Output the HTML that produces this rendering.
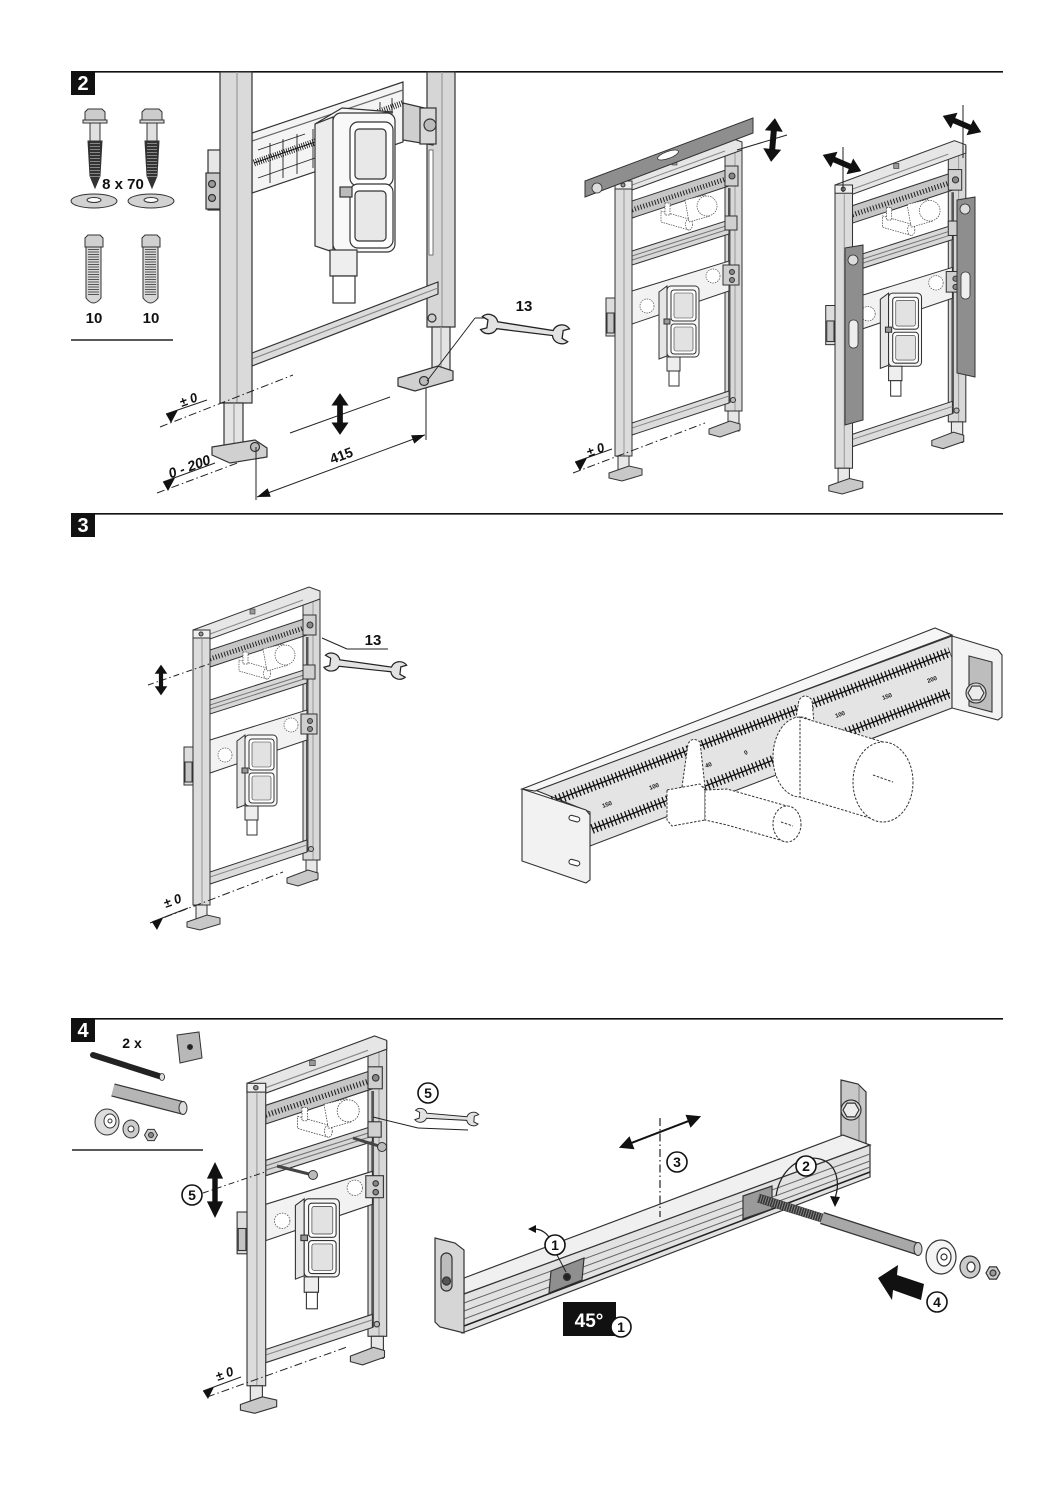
<!DOCTYPE html>
<html><head><meta charset="utf-8"><style>
html,body{margin:0;padding:0;background:#fff;}
svg{display:block;}
text{font-family:"Liberation Sans",Arial,sans-serif;font-weight:bold;fill:#111;}
</style></head><body>
<svg width="1058" height="1497" viewBox="0 0 1058 1497" xmlns="http://www.w3.org/2000/svg">
<defs>
 <g id="wrench"><path d="M 7 7 L 1 4.5 A 9.5 9.5 0 0 1 17 7.5 L 73 8.5 A 9.5 9.5 0 0 1 89 4.5 L 83 7 L 83 15 L 89 17.5 A 9.5 9.5 0 0 1 73 13.5 L 17 14.5 A 9.5 9.5 0 0 1 1 17.5 L 7 15 Z" fill="#e2e2e2" stroke="#222" stroke-width="1.3"/></g>
 <polygon id="darrow" points="0,-22 9,-9 3,-9 3,9 9,9 0,22 -9,9 -3,9 -3,-9 -9,-9" fill="#111"/>
 <g id="frame" stroke="#333" stroke-width="1">
  <!-- right post -->
  <rect x="110" y="-5" width="17" height="268" fill="#d8d8d8"/>
  <line x1="120" y1="-5" x2="120" y2="263" stroke="#999"/>
  <rect x="113" y="40" width="2.5" height="215" fill="#555" stroke="none"/>
  <rect x="113" y="263" width="11" height="20" fill="#e8e8e8"/>
  <polygon points="94,281 115,273 125,276 125,282 105,289 94,286" fill="#c8c8c8"/>
  <circle cx="118" cy="252" r="2.5" fill="#bbb"/>
  <!-- top crossbar -->
  <polygon points="0,33 116,-10 127,-6 127,2 17,42 0,42" fill="#e6e6e6"/>
  <line x1="17" y1="37" x2="110" y2="3" stroke="#888"/>
  <rect x="57" y="12" width="5" height="5" fill="#999" stroke-width="0.6"/>
  <!-- scale rail -->
  <polygon points="17,53 114,21 114,38 17,70" fill="#c6c6c6"/>
  <line x1="17" y1="62" x2="114" y2="30" stroke="#222" stroke-width="5" stroke-dasharray="1 2"/>
  <rect x="110" y="18" width="13" height="20" fill="#cfcfcf"/>
  <circle cx="117" cy="28" r="3" fill="#888"/>
  <!-- upper valve dashed -->
  <g fill="#fff" stroke="#444" stroke-width="0.7" stroke-dasharray="1.5 1">
   <polygon points="46,63 74,71 74,82 46,74"/>
   <ellipse cx="74" cy="76.5" rx="3.5" ry="5.5"/>
   <polygon points="70,52 90,47 95,68 74,74"/>
   <circle cx="92" cy="58" r="10"/>
   <rect x="50" y="55" width="5" height="12"/>
  </g>
  <!-- grooved rail -->
  <polygon points="17,103 114,72 114,86 17,117" fill="#d8d8d8"/>
  <line x1="17" y1="108" x2="114" y2="77" stroke="#777"/>
  <line x1="17" y1="112" x2="114" y2="81" stroke="#777"/>
  <rect x="110" y="68" width="12" height="14" fill="#d0d0d0"/>
  <!-- module plate -->
  <polygon points="17,143 114,113 114,143 17,176" fill="#f2f2f2"/>
  <g fill="#fff" stroke="#555" stroke-width="0.7" stroke-dasharray="1.5 1">
   <circle cx="32" cy="158" r="7"/>
   <circle cx="98" cy="128" r="7"/>
  </g>
  <rect x="108" y="117" width="16" height="20" fill="#cfcfcf"/>
  <circle cx="117" cy="124" r="2.5" fill="#888"/>
  <circle cx="117" cy="132" r="2.5" fill="#888"/>
  <!-- box -->
  <polygon points="44,144 52,138 52,208 44,211" fill="#e6e6e6"/>
  <rect x="52" y="138" width="32" height="71" rx="4" fill="#f6f6f6"/>
  <rect x="56" y="142" width="25" height="31" rx="3" fill="#fff"/>
  <rect x="59" y="145" width="19" height="25" rx="2" fill="#e2e2e2" stroke-width="0.6"/>
  <rect x="56" y="176" width="25" height="30" rx="3" fill="#fff"/>
  <rect x="59" y="179" width="19" height="24" rx="2" fill="#e2e2e2" stroke-width="0.6"/>
  <rect x="49" y="171" width="6" height="5" fill="#999"/>
  <rect x="52" y="209" width="13" height="14" fill="#eee"/>
  <rect x="54" y="223" width="10" height="15" fill="#fff"/>
  <!-- bottom crossbar -->
  <polygon points="17,275 114,243 114,255 17,287" fill="#dcdcdc"/>
  <line x1="17" y1="280" x2="114" y2="248" stroke="#888"/>
  <!-- left post -->
  <rect x="0" y="35" width="17" height="273" fill="#dcdcdc"/>
  <line x1="9" y1="42" x2="9" y2="308" stroke="#999"/>
  <rect x="0" y="33" width="17" height="8" fill="#eee"/>
  <circle cx="8" cy="37" r="2" fill="#999"/>
  <rect x="3" y="308" width="11" height="14" fill="#e8e8e8"/>
  <polygon points="-6,325 14,318 27,321 27,327 7,333 -6,330" fill="#c8c8c8"/>
  <!-- left bracket -->
  <rect x="-9" y="150" width="9" height="38" fill="#ddd"/>
  <rect x="-8" y="165" width="7" height="20" fill="#c4c4c4"/>
 </g>
</defs>

<!-- ===== SECTION HEADERS ===== -->
<rect x="71" y="71" width="24" height="24" fill="#111"/>
<text x="83" y="90" text-anchor="middle" font-size="20" style="fill:#fff">2</text>
<line x1="94" y1="71.8" x2="1003" y2="71.8" stroke="#111" stroke-width="1.6"/>
<rect x="71" y="513" width="24" height="24" fill="#111"/>
<text x="83" y="532" text-anchor="middle" font-size="20" style="fill:#fff">3</text>
<line x1="94" y1="513.8" x2="1003" y2="513.8" stroke="#111" stroke-width="1.6"/>
<rect x="71" y="1018" width="24" height="24" fill="#111"/>
<text x="83" y="1037" text-anchor="middle" font-size="20" style="fill:#fff">4</text>
<line x1="94" y1="1018.8" x2="1003" y2="1018.8" stroke="#111" stroke-width="1.6"/>

<!-- ===== SECTION 2 KIT ===== -->
<g stroke="#333" stroke-width="1">
 <!-- screws -->
 <polygon points="85,112 88,109 102,109 105,112 105,120 85,120" fill="#ccc"/>
 <rect x="83" y="120" width="24" height="3" fill="#ddd"/>
 <rect x="90" y="123" width="10" height="18" fill="#e0e0e0"/>
 <polygon points="88,141 102,141 100,176 95,188 90,176" fill="#333"/>
 <line x1="95" y1="143" x2="95" y2="178" stroke="#888" stroke-width="10" stroke-dasharray="1 2"/>
 <polygon points="142,112 145,109 159,109 162,112 162,120 142,120" fill="#ccc"/>
 <rect x="140" y="120" width="24" height="3" fill="#ddd"/>
 <rect x="147" y="123" width="10" height="18" fill="#e0e0e0"/>
 <polygon points="145,141 159,141 157,176 152,188 147,176" fill="#333"/>
 <line x1="152" y1="143" x2="152" y2="178" stroke="#888" stroke-width="10" stroke-dasharray="1 2"/>
 <!-- washers -->
 <ellipse cx="94" cy="201" rx="23" ry="7" fill="#d2d2d2"/>
 <ellipse cx="94" cy="200" rx="7" ry="2.5" fill="#fff"/>
 <ellipse cx="151" cy="201" rx="23" ry="7" fill="#d2d2d2"/>
 <ellipse cx="151" cy="200" rx="7" ry="2.5" fill="#fff"/>
 <!-- anchors -->
 <polygon points="85,238 88,235 100,235 103,238 103,247 85,247" fill="#d0d0d0"/>
 <path d="M 86 247 L 101 247 L 101 298 Q 93.5 308 86 298 Z" fill="#d6d6d6"/>
 <line x1="93.5" y1="249" x2="93.5" y2="296" stroke="#555" stroke-width="11" stroke-dasharray="1 1.5"/>
 <polygon points="142,238 145,235 157,235 160,238 160,247 142,247" fill="#d0d0d0"/>
 <path d="M 143 247 L 158 247 L 158 298 Q 150.5 308 143 298 Z" fill="#d6d6d6"/>
 <line x1="150.5" y1="249" x2="150.5" y2="296" stroke="#555" stroke-width="11" stroke-dasharray="1 1.5"/>
</g>
<text x="123" y="189" text-anchor="middle" font-size="15">8 x 70</text>
<text x="94" y="323" text-anchor="middle" font-size="15">10</text>
<text x="151" y="323" text-anchor="middle" font-size="15">10</text>
<line x1="71" y1="340" x2="173" y2="340" stroke="#222" stroke-width="1.5"/>

<!-- ===== SECTION 2 FIG 1 ===== -->
<g stroke="#333" stroke-width="1.2">
 <!-- right post -->
 <rect x="427" y="72" width="28" height="255" fill="#d6d6d6"/>
 <line x1="442" y1="72" x2="442" y2="327" stroke="#999"/>
 <rect x="429" y="150" width="4" height="105" fill="#fff" stroke="#555" stroke-width="0.8"/>
 <rect x="432" y="327" width="18" height="50" fill="#e4e4e4"/>
 <line x1="441" y1="327" x2="441" y2="377" stroke="#999"/>
 <circle cx="432" cy="318" r="4" fill="#ccc"/>
 <polygon points="398,378 438,366 453,371 453,380 415,391 398,386" fill="#d0d0d0"/>
 <circle cx="424" cy="381" r="4.5" fill="#bbb"/>
 <!-- left block behind -->
 <rect x="208" y="150" width="14" height="60" fill="#e6e6e6"/>
 <rect x="206" y="173" width="14" height="36" fill="#c8c8c8"/>
 <circle cx="212" cy="184" r="3.5" fill="#999"/>
 <circle cx="212" cy="198" r="3.5" fill="#999"/>
 <!-- scale plate -->
 <polygon points="252,133 403,82 403,142 252,193" fill="#f4f4f4"/>
 <line x1="252" y1="141" x2="403" y2="90" stroke="#666"/>
 <line x1="254" y1="163" x2="318" y2="141" stroke="#111" stroke-width="1"/>
 <line x1="254" y1="163" x2="318" y2="141" stroke="#111" stroke-width="7" stroke-dasharray="0.8 1.5"/>
 <g stroke="#222" stroke-width="0.9">
  <line x1="270" y1="143" x2="270" y2="183"/><line x1="283" y1="139" x2="283" y2="178"/>
  <line x1="297" y1="134" x2="297" y2="174"/><line x1="313" y1="129" x2="313" y2="168"/>
  <line x1="258" y1="150" x2="305" y2="134"/><line x1="258" y1="178" x2="315" y2="158"/>
  <line x1="392" y1="98" x2="392" y2="135"/><line x1="380" y1="102" x2="380" y2="139"/>
 </g>
 <line x1="378" y1="112" x2="403" y2="103" stroke="#111" stroke-width="6" stroke-dasharray="0.8 1.5"/>
 <!-- right bracket -->
 <polygon points="403,103 433,110 433,145 403,140" fill="#cfcfcf"/>
 <rect x="420" y="108" width="16" height="36" fill="#d8d8d8"/>
 <circle cx="430" cy="125" r="6" fill="#bbb"/>
 <!-- lower crossbar -->
 <polygon points="252,353 438,282 438,294 252,366" fill="#dcdcdc"/>
 <line x1="252" y1="359" x2="438" y2="288" stroke="#888"/>
 <!-- box -->
 <polygon points="315,124 333,117 333,252 315,246" fill="#ececec"/>
 <polygon points="315,124 342,108 393,112 333,117" fill="#f6f6f6"/>
 <rect x="333" y="113" width="62" height="139" rx="8" fill="#f8f8f8"/>
 <rect x="350" y="122" width="43" height="64" rx="8" fill="#fff"/>
 <rect x="355" y="129" width="31" height="50" rx="4" fill="#e8e8e8"/>
 <rect x="350" y="184" width="43" height="64" rx="8" fill="#fff"/>
 <rect x="355" y="191" width="31" height="50" rx="4" fill="#e8e8e8"/>
 <rect x="340" y="187" width="12" height="10" fill="#bbb"/>
 <rect x="330" y="250" width="27" height="26" fill="#eee"/>
 <rect x="333" y="276" width="22" height="27" fill="#fff"/>
 <!-- left post -->
 <rect x="220" y="72" width="32" height="331" fill="#dadada"/>
 <line x1="237" y1="72" x2="237" y2="403" stroke="#999"/>
 <rect x="224" y="403" width="19" height="48" fill="#e4e4e4"/>
 <line x1="234" y1="403" x2="234" y2="451" stroke="#999"/>
 <polygon points="212,447 255,440 267,448 267,457 230,463 212,455" fill="#d0d0d0"/>
 <circle cx="255" cy="447" r="4.5" fill="#bbb"/>
</g>
<!-- dimension & markers fig1 -->
<g stroke="#222" stroke-width="1" fill="none">
 <line x1="160" y1="427" x2="293" y2="375" stroke-dasharray="8 3 1.5 3"/>
 <line x1="157" y1="493" x2="240" y2="462" stroke-dasharray="8 3 1.5 3"/>
 <line x1="166" y1="414" x2="207" y2="400"/>
 <line x1="163" y1="482" x2="215" y2="463"/>
 <line x1="256" y1="447" x2="256" y2="500"/>
 <line x1="426" y1="388" x2="426" y2="440"/>
 <line x1="290" y1="433" x2="390" y2="397"/>
 <line x1="427" y1="381" x2="475" y2="318"/>
 <line x1="475" y1="318" x2="490" y2="318"/>
</g>
<polygon points="166,414 178,410 171,423" fill="#111"/>
<polygon points="163,482 175,478 168,491" fill="#111"/>
<text transform="translate(190,404) rotate(-20)" text-anchor="middle" font-size="13" font-style="italic">± 0</text>
<text transform="translate(191,471) rotate(-20)" text-anchor="middle" font-size="14" font-style="italic">0 - 200</text>
<g transform="translate(257,497) rotate(-20.3)">
 <line x1="0" y1="0" x2="179" y2="0" stroke="#222" stroke-width="1"/>
 <polygon points="0,0 13,-4.5 13,4.5" fill="#111"/>
 <polygon points="179,0 166,-4.5 166,4.5" fill="#111"/>
</g>
<text transform="translate(343,460) rotate(-20)" text-anchor="middle" font-size="14">415</text>
<use href="#darrow" transform="translate(340,414) scale(0.95)"/>
<use href="#wrench" transform="translate(482,312) rotate(8)"/>
<text x="524" y="311" text-anchor="middle" font-size="15">13</text>

<!-- ===== SECTION 2 FIG 2 ===== -->
<use href="#frame" transform="translate(615,148)"/>
<polygon points="585,181 753,118 753,133 585,197" fill="#8e8e8e" stroke="#333" stroke-width="1"/>
<ellipse cx="668" cy="155" rx="11" ry="3.5" transform="rotate(-20 668 155)" fill="#fff" stroke="#333" stroke-width="0.8"/>
<circle cx="597" cy="188" r="5" fill="#ddd" stroke="#333" stroke-width="0.8"/>
<line x1="737" y1="150" x2="787" y2="135" stroke="#222" stroke-width="1"/>
<use href="#darrow" transform="translate(773,140) rotate(5)"/>
<line x1="573" y1="473" x2="705" y2="423" stroke="#222" stroke-width="1" stroke-dasharray="8 3 1.5 3"/>
<line x1="575" y1="462" x2="612" y2="449" stroke="#222" stroke-width="1"/>
<polygon points="575,462 587,458 580,471" fill="#111"/>
<text transform="translate(597,454) rotate(-20)" text-anchor="middle" font-size="13" font-style="italic">± 0</text>

<!-- ===== SECTION 2 FIG 3 ===== -->
<use href="#frame" transform="translate(835,151) scale(1.03)"/>
<polygon points="845,248 863,245 863,420 845,425" fill="#8e8e8e" stroke="#333" stroke-width="1"/>
<circle cx="853" cy="260" r="5" fill="#ddd" stroke="#333" stroke-width="0.8"/>
<rect x="849" y="320" width="9" height="28" rx="4" fill="#eee" stroke="#333" stroke-width="0.8"/>
<polygon points="957,200 975,197 975,377 957,373" fill="#8e8e8e" stroke="#333" stroke-width="1"/>
<circle cx="965" cy="209" r="5" fill="#ddd" stroke="#333" stroke-width="0.8"/>
<rect x="961" y="272" width="9" height="27" rx="4" fill="#eee" stroke="#333" stroke-width="0.8"/>
<line x1="843" y1="147" x2="843" y2="192" stroke="#222" stroke-width="1"/>
<line x1="963" y1="105" x2="963" y2="158" stroke="#222" stroke-width="1"/>
<use href="#darrow" transform="translate(842,163) rotate(113) scale(0.95)"/>
<use href="#darrow" transform="translate(962,124) rotate(113) scale(0.95)"/>

<!-- ===== SECTION 3 FRAME ===== -->
<use href="#frame" transform="translate(193,597)"/>
<line x1="148" y1="685" x2="212" y2="663" stroke="#222" stroke-width="1" stroke-dasharray="6 3 1.5 3"/>
<use href="#darrow" transform="translate(161,680) scale(0.7)"/>
<line x1="322" y1="638" x2="347" y2="649" stroke="#222" stroke-width="1"/>
<line x1="347" y1="649" x2="388" y2="649" stroke="#222" stroke-width="1"/>
<text x="373" y="645" text-anchor="middle" font-size="15">13</text>
<use href="#wrench" transform="translate(325,651) rotate(7) scale(0.93)"/>
<line x1="150" y1="923" x2="283" y2="872" stroke="#222" stroke-width="1" stroke-dasharray="8 3 1.5 3"/>
<line x1="152" y1="922" x2="188" y2="908" stroke="#222" stroke-width="1"/>
<polygon points="152,922 163,918 157,930" fill="#111"/>
<text transform="translate(174,905) rotate(-20)" text-anchor="middle" font-size="13" font-style="italic">± 0</text>

<!-- ===== SECTION 3 BRACKET ===== -->
<g stroke="#333" stroke-width="1.1">
 <polygon points="535,790 952,636 952,708 590,846 590,812" fill="#e4e4e4"/>
 <polygon points="522,789 935,628 952,635 535,791" fill="#f6f6f6"/>
 <line x1="545" y1="804" x2="950" y2="652" stroke="#111" stroke-width="1.3"/>
 <line x1="545" y1="804" x2="950" y2="652" stroke="#111" stroke-width="10" stroke-dasharray="1.3 2.7"/>
 <line x1="592" y1="829" x2="950" y2="693" stroke="#111" stroke-width="1.3"/>
 <line x1="592" y1="829" x2="950" y2="693" stroke="#111" stroke-width="10" stroke-dasharray="1.3 2.7"/>
</g>
<g font-size="6">
 <text transform="translate(603,808) rotate(-20)">150</text>
 <text transform="translate(650,790) rotate(-20)">100</text>
 <text transform="translate(706,768) rotate(-20)">40</text>
 <text transform="translate(745,755) rotate(-20)">0</text>
 <text transform="translate(781,740) rotate(-20)">40</text>
 <text transform="translate(836,718) rotate(-20)">100</text>
 <text transform="translate(883,700) rotate(-20)">150</text>
 <text transform="translate(928,683) rotate(-20)">200</text>
</g>
<!-- pipes dashed -->
<g fill="#fff" stroke="#333" stroke-width="1" stroke-dasharray="2.5 1.5">
 <path d="M 682 787 L 688 744 Q 692 736 700 742 L 705 787 Z"/>
 <path d="M 793 735 L 799 700 Q 805 692 812 700 L 815 735 Z"/>
 <polygon points="667,790 700,784 705,790 705,820 672,826 667,820"/>
 <polygon points="705,790 727,789 787,806 787,842 727,825 705,820"/>
 <ellipse cx="787" cy="824" rx="14" ry="18"/>
 <line x1="781" y1="822" x2="793" y2="826"/>
 <ellipse cx="800" cy="757" rx="27" ry="40"/>
 <polygon points="800,717 883,742 883,822 800,797"/>
 <ellipse cx="883" cy="782" rx="30" ry="40"/>
 <line x1="873" y1="775" x2="893" y2="782"/>
</g>
<g stroke="#333" stroke-width="1.1">
 <polygon points="522,789 586,810 590,815 590,880 586,883 522,861" fill="#f2f2f2"/>
 <rect x="569" y="816" width="11" height="5" rx="2.5" fill="#fff" transform="rotate(15 574 818)"/>
 <rect x="569" y="860" width="11" height="5" rx="2.5" fill="#fff" transform="rotate(15 574 862)"/>
 <polygon points="952,636 998,650 1002,655 1002,717 998,720 952,708" fill="#f2f2f2"/>
 <polygon points="969,656 992,662 992,712 969,706" fill="#bdbdbd"/>
 <circle cx="976" cy="693" r="10" fill="#d6d6d6"/>
 <polygon points="984,693 980,699.9 972,699.9 968,693 972,686.1 980,686.1" fill="#ececec"/>
</g>

<!-- ===== SECTION 4 KIT ===== -->
<text x="132" y="1048" text-anchor="middle" font-size="14">2 x</text>
<line x1="93" y1="1055" x2="162" y2="1077" stroke="#222" stroke-width="6" stroke-linecap="round"/>
<ellipse cx="162" cy="1077" rx="2.5" ry="3.5" fill="#ddd" stroke="#333" stroke-width="0.8"/>
<line x1="113" y1="1090" x2="183" y2="1108" stroke="#333" stroke-width="13.5"/>
<line x1="113" y1="1090" x2="183" y2="1108" stroke="#b5b5b5" stroke-width="11"/>
<ellipse cx="183" cy="1108" rx="4" ry="6.5" fill="#ddd" stroke="#333" stroke-width="1"/>
<g stroke="#333" stroke-width="1">
 <polygon points="177,1035 199,1032 202,1058 180,1063" fill="#b8b8b8"/>
 <circle cx="190" cy="1047" r="2.5" fill="#222"/>
 <ellipse cx="107" cy="1122" rx="12" ry="13" fill="#ddd"/>
 <ellipse cx="110" cy="1121" rx="6" ry="7" fill="#fff"/>
 <circle cx="110" cy="1121" r="2" fill="#fff"/>
 <ellipse cx="131" cy="1129" rx="8" ry="9" fill="#ccc"/>
 <circle cx="131" cy="1129" r="3" fill="#fff"/>
 <polygon points="157.5,1135 154.25,1140.6 147.75,1140.6 144.5,1135 147.75,1129.4 154.25,1129.4" fill="#ccc"/>
 <circle cx="151" cy="1135" r="2.5" fill="#888"/>
</g>
<line x1="72" y1="1150" x2="203" y2="1150" stroke="#222" stroke-width="1.5"/>

<!-- ===== SECTION 4 FRAME ===== -->
<use href="#frame" transform="translate(247,1047) scale(1.1)"/>
<line x1="277" y1="1166" x2="313" y2="1175" stroke="#444" stroke-width="3"/>
<circle cx="313" cy="1175" r="4.5" fill="#bbb" stroke="#333"/>
<line x1="353" y1="1138" x2="382" y2="1147" stroke="#444" stroke-width="3"/>
<circle cx="382" cy="1147" r="4.5" fill="#bbb" stroke="#333"/>
<line x1="203" y1="1193" x2="265" y2="1172" stroke="#222" stroke-width="1" stroke-dasharray="6 3 1.5 3"/>
<use href="#darrow" transform="translate(215,1190) scale(0.9,1.27)"/>
<line x1="373" y1="1117" x2="418" y2="1128" stroke="#222" stroke-width="1"/>
<line x1="418" y1="1128" x2="468" y2="1130" stroke="#222" stroke-width="1"/>
<use href="#wrench" transform="translate(415,1107) rotate(4) scale(0.72)"/>
<line x1="207" y1="1397" x2="347" y2="1347" stroke="#222" stroke-width="1" stroke-dasharray="8 3 1.5 3"/>
<line x1="203" y1="1391" x2="241" y2="1377" stroke="#222" stroke-width="1"/>
<polygon points="203,1391 214,1387 208,1399" fill="#111"/>
<text transform="translate(226,1378) rotate(-20)" text-anchor="middle" font-size="13" font-style="italic">± 0</text>

<!-- ===== SECTION 4 BRACKET ===== -->
<g stroke="#333" stroke-width="1.2">
 <polygon points="841,1080 858,1084 866,1092 866,1177 845,1172 841,1168" fill="#c8c8c8"/>
 <line x1="859" y1="1086" x2="859" y2="1172" stroke="#888"/>
 <circle cx="851" cy="1110" r="10" fill="#d6d6d6"/>
 <polygon points="859,1110 855,1116.9 847,1116.9 843,1110 847,1103.1 855,1103.1" fill="#ececec"/>
 <polygon points="464,1278 843,1135 870,1145 464,1294" fill="#f0f0f0"/>
 <polygon points="464,1294 870,1145 870,1177 462,1333" fill="#e2e2e2"/>
 <g stroke="#666" stroke-width="1">
  <line x1="464" y1="1303" x2="870" y2="1154"/>
  <line x1="464" y1="1311" x2="870" y2="1161"/>
  <line x1="464" y1="1319" x2="870" y2="1167"/>
 </g>
 <line x1="464" y1="1326" x2="870" y2="1172" stroke="#222" stroke-width="1.5"/>
 <polygon points="743,1196 772,1186 772,1209 743,1219" fill="#9a9a9a"/>
 <polygon points="435,1238 455,1243 464,1250 464,1333 440,1327 435,1322" fill="#d6d6d6"/>
 <rect x="441" y="1253" width="11" height="38" rx="5.5" fill="#bdbdbd"/>
 <circle cx="446.5" cy="1281" r="4" fill="#555"/>
 <polygon points="551,1271 584,1258 582,1280 549,1293" fill="#8f8f8f"/>
 <circle cx="567" cy="1277" r="3.5" fill="#222"/>
</g>
<line x1="758" y1="1198" x2="822" y2="1218" stroke="#333" stroke-width="9"/>
<line x1="758" y1="1198" x2="822" y2="1218" stroke="#888" stroke-width="8" stroke-dasharray="1 1.5"/>
<line x1="822" y1="1218" x2="918" y2="1249" stroke="#333" stroke-width="12.5"/>
<line x1="822" y1="1218" x2="918" y2="1249" stroke="#a8a8a8" stroke-width="10"/>
<ellipse cx="918" cy="1249" rx="4" ry="6.5" fill="#ccc" stroke="#333" stroke-width="1"/>
<g stroke="#333" stroke-width="1.2">
 <ellipse cx="941" cy="1257" rx="15" ry="17" fill="#f4f4f4"/>
 <ellipse cx="944" cy="1257" rx="7" ry="9" fill="#fff"/>
 <circle cx="944" cy="1257" r="3" fill="#fff"/>
 <ellipse cx="970" cy="1267" rx="10" ry="11" fill="#ccc"/>
 <ellipse cx="971" cy="1267" rx="4" ry="5" fill="#fff"/>
 <polygon points="1000,1273 996.5,1279.1 989.5,1279.1 986,1273 989.5,1266.9 996.5,1266.9" fill="#ccc"/>
 <circle cx="993" cy="1273" r="3" fill="#999"/>
</g>
<polygon points="878,1278 898,1265 897,1275 924,1284 921,1300 893,1290 892,1300" fill="#111"/>
<line x1="660" y1="1118" x2="660" y2="1217" stroke="#222" stroke-width="1.2" stroke-dasharray="8 3 1.5 3"/>
<g transform="translate(660,1132) rotate(-21)">
 <line x1="-34" y1="0" x2="34" y2="0" stroke="#111" stroke-width="2"/>
 <polygon points="-44,0 -30,-7 -30,7" fill="#111"/>
 <polygon points="44,0 30,-7 30,7" fill="#111"/>
</g>
<path d="M 776 1196 C 780 1170 800 1154 820 1159 C 838 1164 840 1184 835 1198" fill="none" stroke="#222" stroke-width="1.2"/>
<polygon points="835,1207 830,1196 840,1197" fill="#111"/>
<line x1="557" y1="1255" x2="566" y2="1272" stroke="#222" stroke-width="1"/>
<path d="M 549 1237 Q 543 1229 534 1229" fill="none" stroke="#222" stroke-width="1.2"/>
<polygon points="528,1229 536,1225 536,1233" fill="#111"/>
<rect x="563" y="1302" width="53" height="34" fill="#111"/>
<text x="589" y="1327" text-anchor="middle" font-size="19" style="fill:#fff">45°</text>

<!-- circled labels -->
<g stroke="#111" stroke-width="1.6" fill="#fff">
 <circle cx="428" cy="1093" r="10"/>
 <circle cx="192" cy="1195" r="10"/>
 <circle cx="677" cy="1162" r="10"/>
 <circle cx="806" cy="1166" r="10"/>
 <circle cx="555" cy="1245" r="10"/>
 <circle cx="621" cy="1327" r="10"/>
 <circle cx="937" cy="1302" r="10"/>
</g>
<g font-size="14" text-anchor="middle">
 <text x="428" y="1098">5</text>
 <text x="192" y="1200">5</text>
 <text x="677" y="1167">3</text>
 <text x="806" y="1171">2</text>
 <text x="555" y="1250">1</text>
 <text x="621" y="1332">1</text>
 <text x="937" y="1307">4</text>
</g>
</svg>
</body></html>
